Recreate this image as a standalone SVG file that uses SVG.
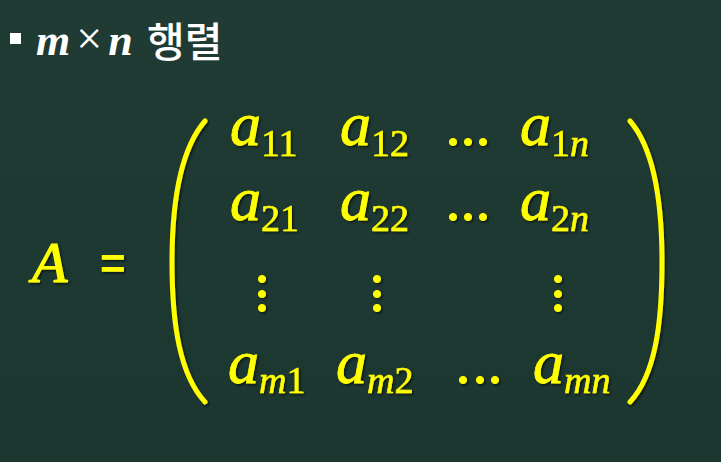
<svg xmlns="http://www.w3.org/2000/svg" width="721" height="462" viewBox="0 0 721 462">
<defs>
<linearGradient id="bg" x1="0" y1="0" x2="0" y2="1">
<stop offset="0" stop-color="#203b34"/>
<stop offset="1" stop-color="#1c3630"/>
</linearGradient>
<filter id="sh" x="-10%" y="-10%" width="130%" height="130%">
<feDropShadow dx="1.5" dy="1.5" stdDeviation="1" flood-color="#000" flood-opacity="0.6"/>
</filter>
</defs>
<style>
.y{fill:#ffff00;stroke:#ffff00;filter:url(#sh)}
.a{font-family:"Liberation Serif",serif;font-style:italic;font-size:62px;stroke-width:0.8}
.s{font-family:"Liberation Serif",serif;font-size:38px;font-style:normal;stroke-width:0.6}
.si{font-family:"Liberation Serif",serif;font-size:38px;font-style:italic;stroke-width:0.6}
.p{fill:none;stroke:#ffff00;stroke-width:5;stroke-linecap:round;filter:url(#sh)}
</style>
<rect width="721" height="462" fill="url(#bg)"/>
<g id="title">
<rect x="10" y="33" width="11" height="11" fill="#ffffff"/>
<text x="36" y="55" font-family="Liberation Serif, serif" font-size="44" fill="#ffffff"><tspan font-style="italic" font-weight="bold">m</tspan><tspan dx="6" dy="-1" font-size="46">×</tspan><tspan dx="6" dy="1" font-style="italic" font-weight="bold">n</tspan></text>
<text x="147" y="57" font-family="Noto Sans CJK KR, sans-serif" font-weight="500" font-size="41" fill="#ffffff">행렬</text>
</g>
<g id="lhs" class="y">
<text x="32" y="282" font-family="Liberation Serif, serif" font-style="italic" font-size="58" stroke-width="1.2">A</text>
<text x="100" y="279" font-family="Liberation Sans, sans-serif" font-weight="bold" font-size="44" stroke-width="0">=</text>
</g>
<g id="brackets">
<path class="p" d="M205,121 C180,150 172,205 172,262 C172,325 180,375 205,402"/>
<path class="p" d="M630,121 C655,150 662,205 662,262 C662,325 655,375 630,402"/>
</g>
<g id="row1" class="y">
<text class="a" x="230" y="145">a<tspan class="s" dy="11">11</tspan></text>
<text class="a" x="340" y="145">a<tspan class="s" dy="11">12</tspan></text>
<circle cx="453" cy="142" r="3.6"/><circle cx="468" cy="142" r="3.6"/><circle cx="483" cy="142" r="3.6"/>
<text class="a" x="520" y="145">a<tspan class="s" dy="11">1</tspan><tspan class="si">n</tspan></text>
</g>
<g id="row2" class="y">
<text class="a" x="230" y="220">a<tspan class="s" dy="11">21</tspan></text>
<text class="a" x="340" y="220">a<tspan class="s" dy="11">22</tspan></text>
<circle cx="453" cy="217" r="3.6"/><circle cx="468" cy="217" r="3.6"/><circle cx="483" cy="217" r="3.6"/>
<text class="a" x="520" y="220">a<tspan class="s" dy="11">2</tspan><tspan class="si">n</tspan></text>
</g>
<g id="vdots" class="y">
<circle cx="262" cy="279" r="3.6"/><circle cx="262" cy="294" r="3.6"/><circle cx="262" cy="308" r="3.6"/>
<circle cx="377" cy="279" r="3.6"/><circle cx="377" cy="294" r="3.6"/><circle cx="377" cy="308" r="3.6"/>
<circle cx="558" cy="279" r="3.6"/><circle cx="558" cy="294" r="3.6"/><circle cx="558" cy="308" r="3.6"/>
</g>
<g id="row4" class="y">
<text class="a" x="228" y="383">a<tspan class="si" dy="10">m</tspan><tspan class="s">1</tspan></text>
<text class="a" x="336" y="383">a<tspan class="si" dy="10">m</tspan><tspan class="s">2</tspan></text>
<circle cx="463" cy="380" r="3.6"/><circle cx="480" cy="380" r="3.6"/><circle cx="495" cy="380" r="3.6"/>
<text class="a" x="533" y="383">a<tspan class="si" dy="10">mn</tspan></text>
</g>
</svg>
